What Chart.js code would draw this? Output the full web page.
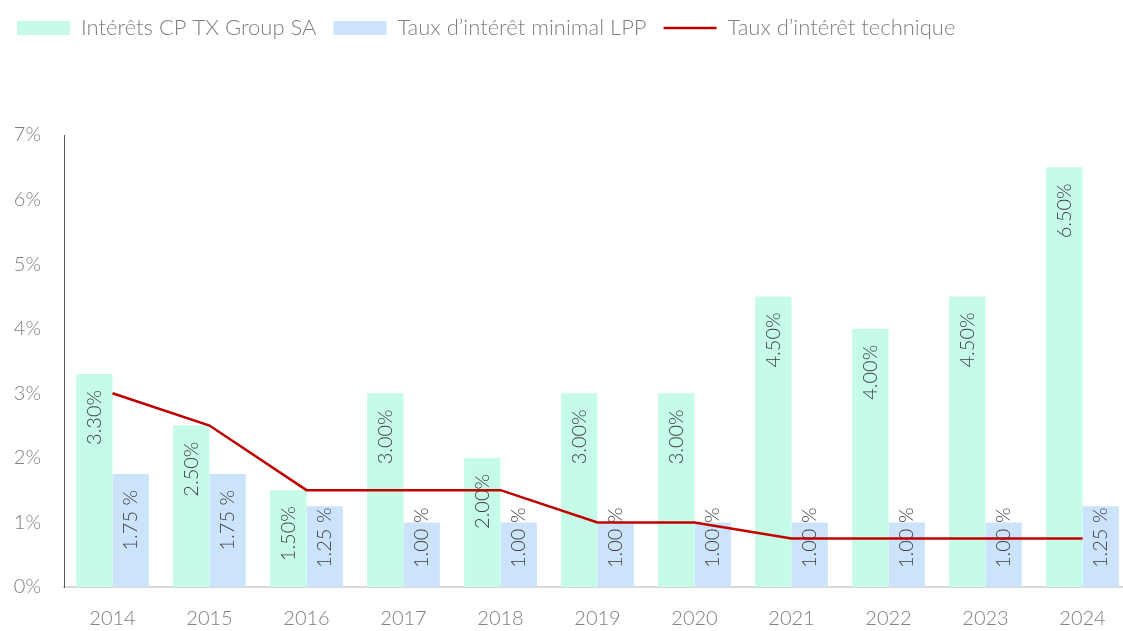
<!DOCTYPE html>
<html>
<head>
<meta charset="utf-8">
<script src="https://cdn.jsdelivr.net/npm/chart.js@4"></script>
<style>
  html, body { margin:0; padding:0; background:#fff; overflow:hidden; }
  #wrap { width:1131px; height:631px; position:relative; }
</style>
</head>
<body>
<div id="wrap"><canvas id="chart"></canvas></div>
<script>
/* TX Group pension fund - interest rates 2014-2024 */

const years = ['2014','2015','2016','2017','2018','2019','2020','2021','2022','2023','2024'];
const interestCP = [3.3, 2.5, 1.5, 3.0, 2.0, 3.0, 3.0, 4.5, 4.0, 4.5, 6.5];
const minimalLPP = [1.75, 1.75, 1.25, 1.0, 1.0, 1.0, 1.0, 1.0, 1.0, 1.0, 1.25];
const technicalRate = [3.0, 2.5, 1.5, 1.5, 1.5, 1.0, 1.0, 0.75, 0.75, 0.75, 0.75];
const seriesNames = ['Intérêts CP TX Group SA', 'Taux d\u2019intérêt minimal LPP', 'Taux d\u2019intérêt technique'];
const yTicks = [0, 1, 2, 3, 4, 5, 6, 7];

const FONT = 'Lato, "Open Sans", sans-serif';

Chart.defaults.font.family = FONT;
Chart.defaults.font.weight = 300;
Chart.defaults.font.size = 20;

/* vertical value labels inside the bars */
const barLabels = {
  id: 'barLabels',
  afterDatasetDraw(chart, args) {
    const meta = args.meta;
    if (meta.type !== 'bar') return;
    const ds = chart.data.datasets[args.index];
    const ctx = chart.ctx;
    const base = chart.scales.y.getPixelForValue(0);
    ctx.save();
    ctx.font = '300 20px ' + FONT;
    ctx.fillStyle = '#404040';
    ctx.textAlign = 'right';
    ctx.textBaseline = 'middle';
    meta.data.forEach((bar, i) => {
      const txt = ds.labelFmt(ds.data[i]);
      const w = ctx.measureText(txt).width;
      let y = bar.y + 16;
      if (y + w > base - 19) y = base - 19 - w;
      ctx.save();
      ctx.translate(bar.x, y);
      ctx.rotate(-Math.PI / 2);
      ctx.fillText(txt, 0, 0);
      ctx.restore();
    });
    ctx.restore();
  }
};

/* leave room under the legend like the original */
const legendSpace = {
  id: 'legendSpace',
  beforeInit(chart) {
    const fit = chart.legend.fit;
    chart.legend.fit = function() {
      fit.call(this);
      this.height = 135;
    };
  }
};

const ctx = document.getElementById('chart').getContext('2d');
new Chart(ctx, {
  type: 'bar',
  data: {
    labels: years,
    datasets: [
      { label: seriesNames[0], data: interestCP, backgroundColor: '#c6fbe7', borderWidth: 0, order: 1,
        pointStyle: 'rect', categoryPercentage: 0.75, barPercentage: 1.0,
        labelFmt: v => v.toFixed(2) + '%' },
      { label: seriesNames[1], data: minimalLPP, backgroundColor: '#cce4fb', borderWidth: 0, order: 2,
        pointStyle: 'rect', categoryPercentage: 0.75, barPercentage: 1.0,
        labelFmt: v => v.toFixed(2) + ' %' },
      { type: 'line', label: seriesNames[2], data: technicalRate, borderColor: '#c00000', backgroundColor: '#c00000',
        borderWidth: 2.5, pointRadius: 0, pointStyle: 'line', tension: 0, order: 0 }
    ]
  },
  options: {
    responsive: true, maintainAspectRatio: false, animation: false,
    layout: { padding: 0 },
    plugins: {
      legend: {
        position: 'top', align: 'start',
        labels: { usePointStyle: true, pointStyleWidth: 53, boxHeight: 14, padding: 17, color: '#7f7f7f',
                  font: { size: 22, weight: 300, family: FONT },
                  sort: (a, b) => a.datasetIndex - b.datasetIndex }
      },
      tooltip: { enabled: false }
    },
    scales: {
      x: {
        afterFit: s => { s.height = 44; },
        grid: { display: false, drawTicks: false },
        border: { display: true, color: '#d9d9d9', width: 2 },
        ticks: { color: '#7f7f7f', padding: 20, font: { size: 20, weight: 300 } }
      },
      y: {
        min: 0, max: 7,
        afterBuildTicks: s => { s.ticks = yTicks.map(v => ({ value: v })); },
        afterFit: s => { s.width = 64; },
        grid: { display: false, drawTicks: false },
        border: { display: true, color: '#595959', width: 1 },
        ticks: { color: '#7f7f7f', padding: 23, font: { size: 20, weight: 300 }, callback: v => v + '%' }
      }
    }
  },
  plugins: [barLabels, legendSpace]
});
</script>
</body>
</html>
